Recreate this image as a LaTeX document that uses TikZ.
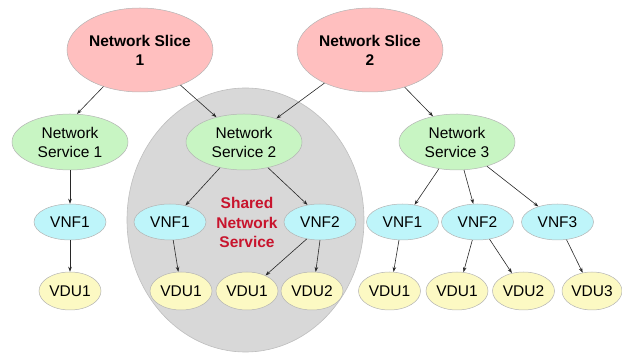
\documentclass[tikz,border=0pt]{standalone}
\usepackage{fontspec}
\setmainfont{Liberation Sans}
\usetikzlibrary{shapes.geometric,arrows.meta}
\definecolor{slicefill}{RGB}{255,191,191}
\definecolor{svcfill}{RGB}{200,245,195}
\definecolor{vnffill}{RGB}{190,245,250}
\definecolor{vdufill}{RGB}{252,249,195}
\definecolor{sharedfill}{RGB}{216,216,216}
\definecolor{sharedline}{RGB}{190,190,190}
\definecolor{nodeline}{RGB}{180,180,180}
\definecolor{sharedred}{RGB}{200,20,45}
\definecolor{arrowcol}{RGB}{40,40,40}
\tikzset{
  base/.style={ellipse, draw=nodeline, line width=0.5pt, inner sep=0pt, align=center,
    font=\fontsize{15.5}{19}\selectfont},
  slice/.style={base, fill=slicefill, minimum width=146pt, minimum height=84pt, font=\fontsize{15.5}{19}\selectfont\bfseries},
  svc/.style={base, fill=svcfill, minimum width=116pt, minimum height=56pt},
  vnf/.style={base, fill=vnffill, minimum width=72pt, minimum height=36pt},
  vdu/.style={base, fill=vdufill, minimum width=62pt, minimum height=38pt},
  conn/.style={draw=arrowcol, line width=0.6pt, -{Stealth[length=5pt,width=3.6pt]}},
}
\begin{document}
\begin{tikzpicture}[x=1pt,y=-1pt]
\useasboundingbox (0,0) rectangle (622,355);
% shared area
\node[ellipse, fill=sharedfill, draw=sharedline, line width=0.6pt, minimum width=237pt, minimum height=264pt, inner sep=0pt] (shared) at (245.5,220) {};
\node[font=\fontsize{15.5}{19.5}\selectfont\bfseries, text=sharedred, align=center] (sharedtxt) at (247,222.5) {Shared\\Network\\Service};
% slices
\node[slice] (s1) at (140,50) {Network Slice\\1};
\node[slice] (s2) at (370,50) {Network Slice\\2};
% services
\node[svc] (ns1) at (70,142) {Network\\Service 1};
\node[svc] (ns2) at (244,142) {Network\\Service 2};
\node[svc] (ns3) at (457,142) {Network\\Service 3};
% VNFs
\node[vnf] (vnfL) at (70,222) {VNF1};
\node[vnf] (vnfS1) at (170,222) {VNF1};
\node[vnf] (vnfS2) at (320,222) {VNF2};
\node[vnf] (vnfR1) at (402.5,222) {VNF1};
\node[vnf] (vnfR2) at (477.5,222) {VNF2};
\node[vnf] (vnfR3) at (557.5,222) {VNF3};
% VDUs
\node[vdu] (vduL) at (70,291) {VDU1};
\node[vdu] (vduS1) at (181,291) {VDU1};
\node[vdu] (vduS2) at (247,291) {VDU1};
\node[vdu] (vduS3) at (312,291) {VDU2};
\node[vdu] (vduR1) at (389.5,291) {VDU1};
\node[vdu] (vduR2) at (457,291) {VDU1};
\node[vdu] (vduR3) at (523.5,291) {VDU2};
\node[vdu, minimum width=60pt] (vduR4) at (592,291) {VDU3};
% connectors
\draw[conn] (s1.225) -- (ns1.76);
\draw[conn] (s1.319) -- (ns2.138);
\draw[conn] (s2.216) -- (ns2.36);
\draw[conn] (s2.313) -- (ns3.133);
\draw[conn] (ns1.south) -- (vnfL.north);
\draw[conn] (ns2.227) -- (vnfS1.47);
\draw[conn] (ns2.313) -- (vnfS2.126);
\draw[conn] (ns3.236) -- (vnfR1.55);
\draw[conn] (ns3.284) -- (vnfR2.103);
\draw[conn] (ns3.321) -- (vnfR3.141);
\draw[conn] (vnfL.south) -- (vduL.north);
\draw[conn] (vnfS1.280) -- (vduS1.98);
\draw[conn] (vnfS2.232) -- (vduS2.40);
\draw[conn] (vnfS2.270) -- (vduS3.79);
\draw[conn] (vnfR1.259) -- (vduR1.78);
\draw[conn] (vnfR2.254) -- (vduR2.71);
\draw[conn] (vnfR2.305) -- (vduR3.123);
\draw[conn] (vnfR3.297) -- (vduR4.117);
\end{tikzpicture}
\end{document}
